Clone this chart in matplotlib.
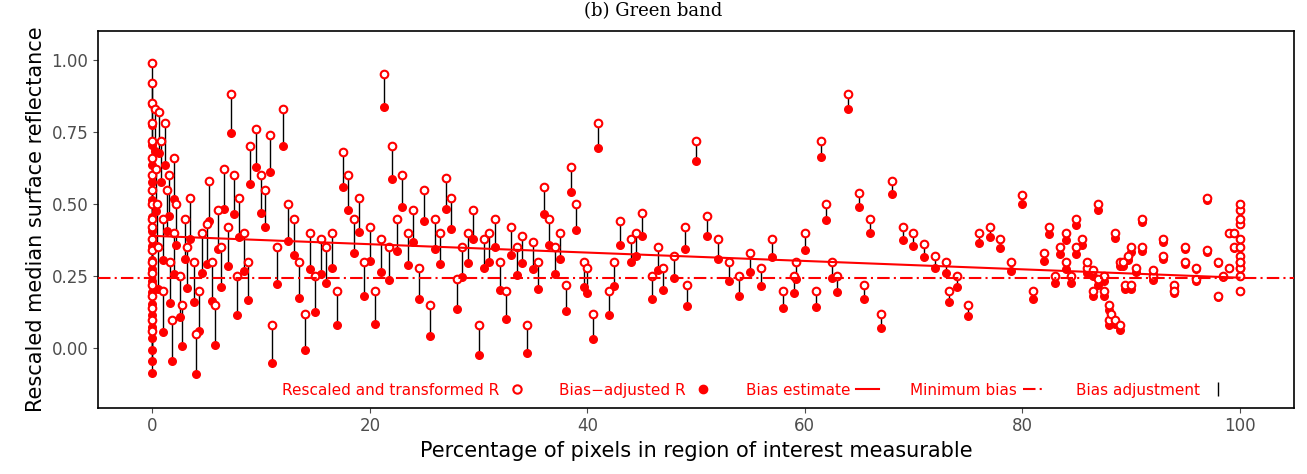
import numpy as np
import matplotlib.pyplot as plt
from matplotlib.lines import Line2D

# percentage measurable and rescaled/transformed R (open circles)
pct = [0,0,0,0,0,0,0,0,0,0,0,0,0,0,0,0,0,0,0,0,0.2,0.3,0.4,0.5,0.6,0.8,1,1,1.2,1.3,1.5,1.6,1.8,2,2,2.2,2.5,2.7,3,3.2,3.5,3.8,4,4.3,4.6,5,5.2,5.5,5.8,6,6.3,6.6,7,7.2,7.5,7.8,8,8.4,8.8,9,9.5,10,10.4,10.8,11,11.5,12,12.5,13,13.5,14,14.5,15,15.5,16,16.5,17,17.5,18,18.5,19,19.5,20,20.5,21,21.3,21.8,22,22.5,23,23.5,24,24.5,25,25.5,26,26.5,27,27.5,28,28.5,29,29.5,30,30.5,31,31.5,32,32.5,33,33.5,34,34.5,35,35.5,36,36.5,37,37.5,38,38.5,39,39.7,40,40.5,41,42,42.5,43,44,44.5,45,46,46.5,47,48,49,49.2,50,51,52,53,54,55,56,57,58,59,59.2,60,61,61.5,62,62.5,63,64,65,65.5,66,67,68,69,70,71,72,73,73.3,74,75,76,77,78,79,80,81,82,82.5,83,83.5,84,84.5,85,85.5,86,86.5,87,87.5,88,88.5,89,89.5,90,90.5,91,92,93,94,95,96,97,98,98.5,99,99.5,100,100,100,100,100,100,100,100,100,100,100,100,
       84,85,86,86.5,87,87.5,88,88.2,88.5,89,89.3,89.7,90,91,92,93,94,95,96,97,98,99,99.5,100]
r_orig = [0.99,0.92,0.85,0.78,0.72,0.66,0.6,0.55,0.5,0.45,0.42,0.38,0.34,0.3,0.26,0.22,0.18,0.14,0.1,0.06,0.83,0.62,0.5,0.35,0.82,0.72,0.45,0.2,0.78,0.55,0.6,0.3,0.1,0.66,0.4,0.5,0.25,0.15,0.45,0.35,0.52,0.3,0.05,0.2,0.4,0.43,0.58,0.3,0.15,0.48,0.35,0.62,0.42,0.88,0.6,0.25,0.52,0.4,0.3,0.7,0.76,0.6,0.55,0.74,0.08,0.35,0.83,0.5,0.45,0.3,0.12,0.4,0.25,0.38,0.35,0.4,0.2,0.68,0.6,0.45,0.52,0.3,0.42,0.2,0.38,0.95,0.35,0.7,0.45,0.6,0.4,0.48,0.28,0.55,0.15,0.45,0.4,0.59,0.52,0.24,0.35,0.4,0.48,0.08,0.38,0.4,0.45,0.3,0.2,0.42,0.35,0.39,0.08,0.37,0.3,0.56,0.45,0.35,0.4,0.22,0.63,0.5,0.3,0.28,0.12,0.78,0.2,0.3,0.44,0.38,0.4,0.47,0.25,0.35,0.28,0.32,0.42,0.22,0.72,0.46,0.38,0.3,0.25,0.33,0.28,0.38,0.2,0.25,0.3,0.4,0.2,0.72,0.5,0.3,0.25,0.88,0.54,0.22,0.45,0.12,0.58,0.42,0.4,0.36,0.32,0.3,0.2,0.25,0.15,0.4,0.42,0.38,0.3,0.53,0.2,0.33,0.42,0.25,0.35,0.3,0.25,0.45,0.38,0.28,0.2,0.5,0.25,0.1,0.4,0.3,0.22,0.35,0.28,0.45,0.25,0.32,0.22,0.35,0.28,0.52,0.3,0.25,0.4,0.35,0.3,0.25,0.28,0.35,0.43,0.48,0.38,0.28,0.2,0.32,0.5,0.45,0.4,0.35,0.3,0.27,0.24,0.2,0.15,0.12,0.1,0.08,
          0.3,0.32,0.22,0.35,0.27,0.38,0.2,0.3,0.24,0.34,0.18,0.28,0.4,0.3,0.22,0.27,0.33,0.2,0.3,0.25,0.37,0.12,0.42,0.18]
n = min(len(pct), len(r_orig))
pct = np.array(pct[:n])
r_orig = np.array(r_orig[:n])

# fitted bias line and minimum bias
bias_start = 0.39
bias_end = 0.245
min_bias = 0.245

bias = bias_start + (bias_end - bias_start) * pct / 100
r_adj = r_orig - (bias - min_bias)

fig, ax = plt.subplots(figsize=(13.07, 4.74), dpi=100)
fig.subplots_adjust(left=0.075, right=0.99, top=0.935, bottom=0.14)

ax.vlines(pct, r_adj, r_orig, color='black', lw=1)
ax.scatter(pct, r_adj, s=30, color='red', zorder=3)
ax.scatter(pct, r_orig, s=30, facecolor='white', edgecolor='red', lw=1.5, zorder=4)
xs = np.array([0, 100])
ax.plot(xs, bias_start + (bias_end - bias_start) * xs / 100, color='red', lw=1.5, zorder=5)
ax.axhline(min_bias, color='red', lw=1.5, ls=(0, (6, 2, 1, 2)), zorder=5)

ax.set_xlim(-5, 105)
ax.set_ylim(-0.205, 1.1)
ax.set_xticks([0, 20, 40, 60, 80, 100])
ax.set_yticks([0, 0.25, 0.5, 0.75, 1.0])
ax.set_yticklabels(['0.00', '0.25', '0.50', '0.75', '1.00'])
ax.tick_params(labelsize=12, colors='#4d4d4d')
ax.set_xlabel('Percentage of pixels in region of interest measurable', fontsize=15)
ax.set_ylabel('Rescaled median surface reflectance', fontsize=15)
for s in ax.spines.values():
    s.set_linewidth(1.2)
fig.text(0.5, 0.995, '(b) Green band', fontsize=13, family='serif', ha='center', va='top')

handles = [
    Line2D([], [], ls='none', marker='o', mfc='white', mec='red', mew=1.5),
    Line2D([], [], ls='none', marker='o', color='red'),
    Line2D([], [], color='red', lw=1.5),
    Line2D([], [], color='red', lw=1.5, ls=(0, (6, 2, 1, 2))),
    Line2D([], [], ls='none', marker='|', color='black', ms=10),
]
labels = ['Rescaled and transformed R', 'Bias\u2212adjusted R', 'Bias estimate',
          'Minimum bias', 'Bias adjustment']
ax.legend(handles, labels, loc='lower center', ncol=5, frameon=False, markerfirst=False,
          labelcolor='red', fontsize=11, bbox_to_anchor=(0.55, -0.01), columnspacing=2.0,
          handletextpad=0.4, handlelength=1.5)

fig.savefig('out.png')
